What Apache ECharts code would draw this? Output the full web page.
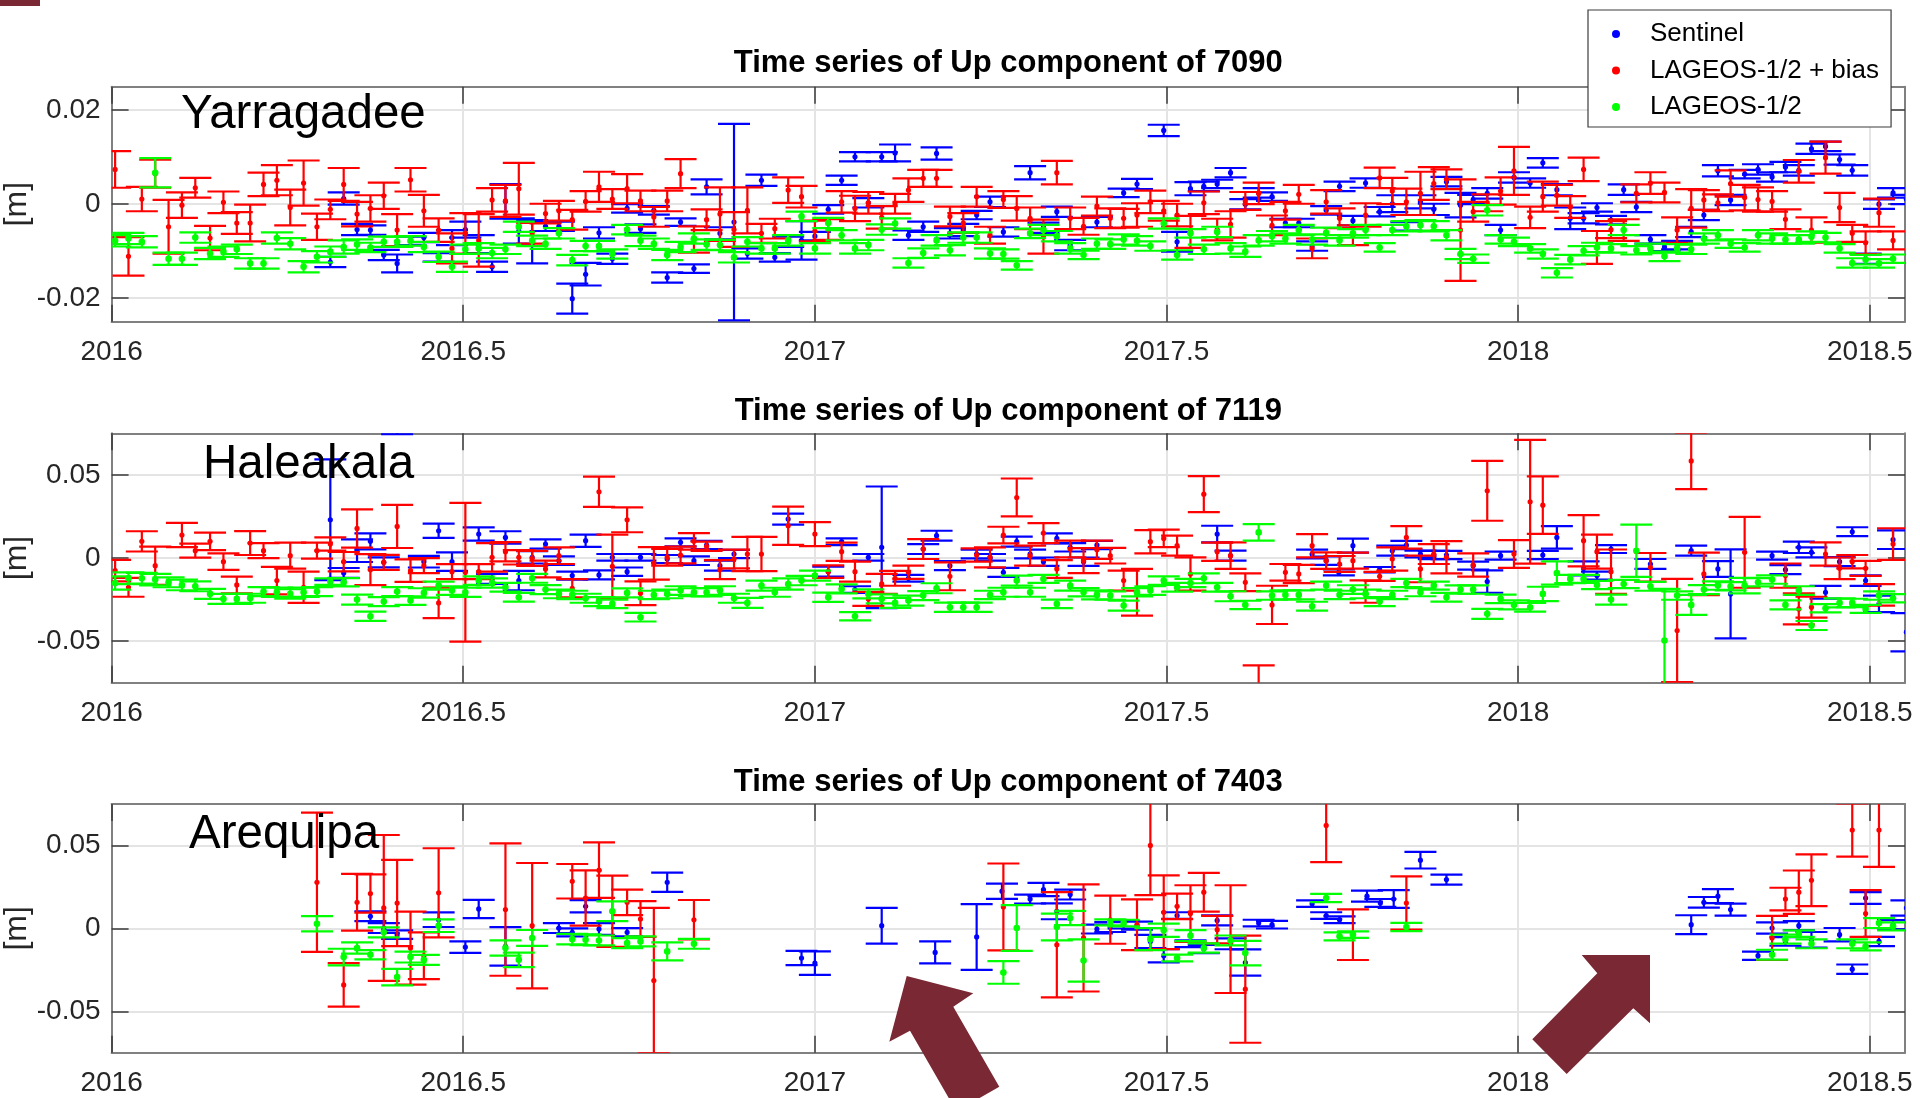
<!DOCTYPE html>
<html>
<head>
<meta charset="utf-8">
<title>Time series of Up component</title>
<script src="https://cdn.jsdelivr.net/npm/echarts@6/dist/echarts.min.js"></script>
<style>
  html, body { margin: 0; padding: 0; background: #ffffff; }
  #chart { width: 1920px; height: 1098px; }
</style>
</head>
<body>
<div id="chart"></div>
<script>
// ---- Data: [decimal year, Up component (m), 1-sigma (m)] ----

const xTicks = [2016, 2016.5, 2017, 2017.5, 2018, 2018.5];
const yTicksNarrow = [-0.02, 0, 0.02];
const yTicksWide = [-0.05, 0, 0.05];

// Station 7090 Yarragadee
const yarSentinel = [
  [2016.311,-0.0123,0.0011],[2016.330,0.0012,0.0013],[2016.349,-0.0054,0.0012],[2016.368,-0.0055,0.0010],
  [2016.387,-0.0108,0.0011],[2016.406,-0.0126,0.0019],[2016.425,-0.0078,0.0009],[2016.444,-0.0071,0.0010],
  [2016.465,-0.0113,0.0009],[2016.484,-0.0071,0.0016],[2016.503,-0.0054,0.0017],[2016.522,-0.0085,0.0019],
  [2016.541,-0.0133,0.0011],[2016.560,0.0006,0.0037],[2016.579,-0.0057,0.0027],[2016.598,-0.0080,0.0046],
  [2016.617,-0.0047,0.0010],[2016.636,-0.0047,0.0010],[2016.655,-0.0201,0.0032],[2016.674,-0.0149,0.0024],
  [2016.693,-0.0061,0.0012],[2016.712,-0.0116,0.0011],[2016.733,-0.0009,0.0009],[2016.752,-0.0052,0.0009],
  [2016.771,-0.0013,0.0009],[2016.790,-0.0156,0.0011],[2016.809,-0.0038,0.0008],[2016.828,-0.0137,0.0009],
  [2016.846,0.0037,0.0016],[2016.865,-0.0062,0.0013],[2016.885,-0.0038,0.0209],[2016.904,-0.0105,0.0011],
  [2016.924,0.0051,0.0012],[2016.943,-0.0113,0.0009],[2016.962,-0.0080,0.0011],[2016.981,-0.0077,0.0041],
  [2017.000,-0.0068,0.0009],[2017.019,-0.0011,0.0009],[2017.038,0.0051,0.0010],[2017.057,0.0101,0.0010],
  [2017.076,0.0003,0.0010],[2017.095,0.0101,0.0010],[2017.114,0.0109,0.0018],[2017.133,-0.0066,0.0010],
  [2017.154,-0.0048,0.0011],[2017.173,0.0108,0.0013],[2017.192,-0.0062,0.0011],[2017.211,-0.0055,0.0013],
  [2017.230,-0.0023,0.0009],[2017.249,0.0005,0.0011],[2017.268,-0.0059,0.0010],[2017.306,0.0067,0.0014],
  [2017.325,-0.0050,0.0011],[2017.344,-0.0016,0.0011],[2017.363,-0.0087,0.0011],[2017.401,-0.0038,0.0011],
  [2017.439,0.0024,0.0009],[2017.458,0.0043,0.0011],[2017.496,0.0157,0.0012],[2017.515,-0.0080,0.0021],
  [2017.534,0.0033,0.0014],[2017.553,0.0038,0.0010],[2017.572,0.0043,0.0009],[2017.591,0.0067,0.0010],
  [2017.612,0.0000,0.0011],[2017.631,0.0024,0.0010],[2017.650,0.0016,0.0009],[2017.669,-0.0040,0.0009],
  [2017.688,-0.0040,0.0009],[2017.707,-0.0089,0.0010],[2017.727,-0.0013,0.0009],[2017.746,0.0038,0.0010],
  [2017.765,-0.0035,0.0010],[2017.783,0.0045,0.0010],[2017.803,-0.0016,0.0010],[2017.821,0.0001,0.0018],
  [2017.841,-0.0047,0.0009],[2017.861,0.0005,0.0014],[2017.880,-0.0011,0.0012],[2017.898,0.0048,0.0010],
  [2017.918,-0.0002,0.0026],[2017.936,0.0010,0.0010],[2017.956,0.0023,0.0011],[2017.975,-0.0055,0.0011],
  [2017.994,0.0057,0.0011],[2018.017,0.0045,0.0010],[2018.035,0.0088,0.0010],[2018.055,0.0031,0.0012],
  [2018.074,-0.0030,0.0023],[2018.093,-0.0030,0.0011],[2018.112,-0.0007,0.0009],[2018.132,-0.0034,0.0009],
  [2018.150,0.0031,0.0011],[2018.168,-0.0006,0.0011],[2018.188,-0.0075,0.0009],[2018.208,-0.0091,0.0009],
  [2018.226,-0.0087,0.0009],[2018.246,-0.0059,0.0011],[2018.264,-0.0023,0.0011],[2018.284,0.0071,0.0012],
  [2018.302,0.0009,0.0011],[2018.322,0.0064,0.0009],[2018.341,0.0074,0.0011],[2018.361,0.0058,0.0010],
  [2018.380,0.0079,0.0011],[2018.399,0.0072,0.0011],[2018.417,0.0118,0.0011],[2018.437,0.0123,0.0010],
  [2018.457,0.0095,0.0011],[2018.475,0.0072,0.0011],[2018.494,-0.0116,0.0011],[2018.513,0.0000,0.0010],
  [2018.533,0.0024,0.0010],[2018.552,0.0010,0.0010]
];
const yarBias = [
  [2016.005,0.0074,0.0039],[2016.024,-0.0111,0.0041],[2016.043,0.0011,0.0026],[2016.062,0.0065,0.0030],
  [2016.081,-0.0048,0.0057],[2016.100,-0.0002,0.0027],[2016.119,0.0035,0.0021],[2016.140,-0.0072,0.0026],
  [2016.159,0.0004,0.0023],[2016.178,-0.0040,0.0023],[2016.197,-0.0040,0.0039],[2016.216,0.0042,0.0025],
  [2016.235,0.0051,0.0032],[2016.254,-0.0007,0.0038],[2016.273,0.0045,0.0048],[2016.292,-0.0048,0.0028],
  [2016.311,-0.0011,0.0021],[2016.330,0.0042,0.0035],[2016.349,-0.0021,0.0026],[2016.368,-0.0009,0.0028],
  [2016.387,0.0018,0.0028],[2016.406,-0.0055,0.0034],[2016.425,0.0052,0.0025],[2016.444,-0.0014,0.0034],
  [2016.465,-0.0055,0.0025],[2016.484,-0.0094,0.0032],[2016.503,-0.0062,0.0043],[2016.522,-0.0077,0.0056],
  [2016.541,0.0009,0.0025],[2016.560,0.0007,0.0034],[2016.579,0.0033,0.0055],[2016.598,-0.0062,0.0022],
  [2016.617,-0.0020,0.0021],[2016.636,-0.0014,0.0021],[2016.655,-0.0033,0.0021],[2016.674,0.0006,0.0022],
  [2016.693,0.0037,0.0032],[2016.712,0.0011,0.0021],[2016.733,0.0033,0.0031],[2016.752,0.0007,0.0022],
  [2016.771,-0.0027,0.0021],[2016.790,0.0007,0.0022],[2016.809,0.0065,0.0031],[2016.828,-0.0075,0.0028],
  [2016.846,-0.0033,0.0022],[2016.865,-0.0021,0.0057],[2016.885,-0.0054,0.0037],[2016.904,-0.0013,0.0049],
  [2016.924,-0.0062,0.0020],[2016.943,-0.0052,0.0021],[2016.962,0.0030,0.0027],[2016.981,0.0016,0.0023],
  [2017.000,-0.0057,0.0022],[2017.019,-0.0054,0.0022],[2017.038,0.0005,0.0023],[2017.057,-0.0009,0.0027],
  [2017.076,0.0003,0.0023],[2017.095,-0.0028,0.0024],[2017.114,0.0001,0.0021],[2017.133,0.0030,0.0025],
  [2017.154,0.0055,0.0018],[2017.173,0.0055,0.0018],[2017.192,-0.0026,0.0021],[2017.211,-0.0040,0.0021],
  [2017.230,0.0016,0.0021],[2017.249,-0.0066,0.0018],[2017.268,0.0010,0.0018],[2017.287,-0.0009,0.0026],
  [2017.306,-0.0030,0.0023],[2017.325,-0.0069,0.0036],[2017.344,0.0067,0.0025],[2017.363,-0.0030,0.0023],
  [2017.382,-0.0047,0.0018],[2017.401,-0.0004,0.0020],[2017.420,-0.0030,0.0021],[2017.439,-0.0030,0.0020],
  [2017.458,-0.0023,0.0025],[2017.477,0.0005,0.0024],[2017.496,-0.0014,0.0021],[2017.515,-0.0023,0.0024],
  [2017.534,-0.0059,0.0034],[2017.553,0.0003,0.0024],[2017.572,-0.0054,0.0023],[2017.591,-0.0043,0.0028],
  [2017.612,0.0007,0.0019],[2017.631,0.0023,0.0023],[2017.650,-0.0045,0.0021],[2017.669,-0.0014,0.0019],
  [2017.688,0.0021,0.0020],[2017.707,-0.0094,0.0021],[2017.727,0.0005,0.0025],[2017.746,-0.0030,0.0021],
  [2017.765,-0.0066,0.0021],[2017.783,-0.0023,0.0025],[2017.803,0.0056,0.0022],[2017.821,0.0028,0.0028],
  [2017.841,0.0005,0.0028],[2017.861,0.0023,0.0046],[2017.880,0.0044,0.0035],[2017.898,0.0053,0.0021],
  [2017.918,-0.0055,0.0108],[2017.936,-0.0016,0.0021],[2017.956,0.0003,0.0018],[2017.975,0.0028,0.0029],
  [2017.994,0.0071,0.0051],[2018.017,-0.0028,0.0023],[2018.035,0.0016,0.0032],[2018.055,0.0019,0.0022],
  [2018.074,-0.0006,0.0023],[2018.093,0.0074,0.0025],[2018.112,-0.0092,0.0035],[2018.132,-0.0054,0.0018],
  [2018.150,-0.0055,0.0023],[2018.168,0.0023,0.0019],[2018.188,0.0045,0.0023],[2018.208,0.0025,0.0021],
  [2018.226,-0.0055,0.0027],[2018.246,-0.0009,0.0041],[2018.264,0.0009,0.0021],[2018.284,0.0003,0.0018],
  [2018.302,0.0044,0.0028],[2018.322,0.0014,0.0027],[2018.341,0.0010,0.0026],[2018.361,0.0006,0.0022],
  [2018.380,-0.0032,0.0021],[2018.399,0.0070,0.0024],[2018.417,-0.0055,0.0027],[2018.437,0.0099,0.0034],
  [2018.457,-0.0007,0.0031],[2018.475,-0.0062,0.0018],[2018.494,-0.0082,0.0024],[2018.513,-0.0018,0.0030],
  [2018.533,-0.0077,0.0019]
];
const yarLageos = [
  [2016.005,-0.0078,0.0012],[2016.024,-0.0073,0.0012],[2016.043,-0.0080,0.0012],[2016.062,0.0067,0.0031],
  [2016.081,-0.0116,0.0013],[2016.100,-0.0116,0.0013],[2016.119,-0.0071,0.0011],[2016.140,-0.0105,0.0012],
  [2016.159,-0.0101,0.0011],[2016.178,-0.0096,0.0010],[2016.197,-0.0126,0.0011],[2016.216,-0.0126,0.0011],
  [2016.235,-0.0072,0.0012],[2016.254,-0.0084,0.0012],[2016.273,-0.0133,0.0012],[2016.292,-0.0112,0.0012],
  [2016.311,-0.0101,0.0011],[2016.330,-0.0091,0.0014],[2016.349,-0.0086,0.0011],[2016.368,-0.0092,0.0010],
  [2016.387,-0.0080,0.0011],[2016.406,-0.0080,0.0011],[2016.425,-0.0078,0.0010],[2016.444,-0.0091,0.0011],
  [2016.465,-0.0112,0.0011],[2016.484,-0.0133,0.0011],[2016.503,-0.0096,0.0010],[2016.522,-0.0094,0.0011],
  [2016.541,-0.0104,0.0011],[2016.560,-0.0096,0.0010],[2016.579,-0.0048,0.0011],[2016.598,-0.0078,0.0011],
  [2016.617,-0.0084,0.0011],[2016.636,-0.0062,0.0011],[2016.655,-0.0119,0.0011],[2016.674,-0.0089,0.0011],
  [2016.693,-0.0089,0.0011],[2016.712,-0.0106,0.0010],[2016.733,-0.0054,0.0010],[2016.752,-0.0078,0.0011],
  [2016.771,-0.0084,0.0011],[2016.790,-0.0108,0.0011],[2016.809,-0.0091,0.0011],[2016.828,-0.0073,0.0011],
  [2016.846,-0.0086,0.0011],[2016.865,-0.0087,0.0011],[2016.885,-0.0113,0.0011],[2016.904,-0.0080,0.0010],
  [2016.924,-0.0094,0.0011],[2016.943,-0.0094,0.0011],[2016.962,-0.0077,0.0011],[2016.981,-0.0026,0.0010],
  [2017.000,-0.0094,0.0011],[2017.019,-0.0040,0.0011],[2017.038,-0.0066,0.0011],[2017.057,-0.0094,0.0011],
  [2017.076,-0.0087,0.0011],[2017.095,-0.0054,0.0011],[2017.114,-0.0041,0.0011],[2017.133,-0.0125,0.0010],
  [2017.154,-0.0104,0.0010],[2017.173,-0.0077,0.0011],[2017.192,-0.0098,0.0011],[2017.211,-0.0071,0.0011],
  [2017.230,-0.0071,0.0011],[2017.249,-0.0105,0.0011],[2017.268,-0.0106,0.0010],[2017.287,-0.0130,0.0009],
  [2017.306,-0.0062,0.0010],[2017.325,-0.0055,0.0011],[2017.344,-0.0068,0.0011],[2017.363,-0.0094,0.0011],
  [2017.382,-0.0108,0.0009],[2017.401,-0.0084,0.0011],[2017.420,-0.0085,0.0010],[2017.439,-0.0075,0.0011],
  [2017.458,-0.0078,0.0010],[2017.477,-0.0089,0.0010],[2017.496,-0.0041,0.0011],[2017.515,-0.0108,0.0010],
  [2017.534,-0.0062,0.0009],[2017.553,-0.0096,0.0010],[2017.572,-0.0059,0.0011],[2017.591,-0.0094,0.0011],
  [2017.612,-0.0101,0.0011],[2017.631,-0.0077,0.0011],[2017.650,-0.0068,0.0011],[2017.669,-0.0073,0.0011],
  [2017.688,-0.0055,0.0011],[2017.707,-0.0075,0.0011],[2017.727,-0.0061,0.0011],[2017.746,-0.0077,0.0011],
  [2017.765,-0.0062,0.0009],[2017.783,-0.0055,0.0011],[2017.803,-0.0092,0.0009],[2017.821,-0.0055,0.0011],
  [2017.841,-0.0047,0.0011],[2017.861,-0.0045,0.0011],[2017.880,-0.0047,0.0011],[2017.898,-0.0066,0.0011],
  [2017.918,-0.0106,0.0011],[2017.936,-0.0116,0.0009],[2017.956,-0.0013,0.0011],[2017.975,-0.0075,0.0009],
  [2017.994,-0.0080,0.0009],[2018.017,-0.0094,0.0009],[2018.035,-0.0106,0.0010],[2018.055,-0.0146,0.0010],
  [2018.074,-0.0118,0.0010],[2018.093,-0.0099,0.0010],[2018.112,-0.0092,0.0010],[2018.132,-0.0094,0.0009],
  [2018.150,-0.0055,0.0011],[2018.168,-0.0098,0.0009],[2018.188,-0.0094,0.0010],[2018.208,-0.0111,0.0010],
  [2018.226,-0.0094,0.0009],[2018.246,-0.0096,0.0010],[2018.264,-0.0073,0.0011],[2018.284,-0.0066,0.0011],
  [2018.302,-0.0084,0.0009],[2018.322,-0.0092,0.0009],[2018.341,-0.0066,0.0011],[2018.361,-0.0073,0.0011],
  [2018.380,-0.0075,0.0009],[2018.399,-0.0075,0.0009],[2018.417,-0.0069,0.0011],[2018.437,-0.0071,0.0010],
  [2018.457,-0.0094,0.0009],[2018.475,-0.0125,0.0010],[2018.494,-0.0118,0.0010],[2018.513,-0.0126,0.0009],
  [2018.533,-0.0116,0.0009]
];

// Station 7119 Haleakala
const halSentinel = [
  [2016.311,0.0230,0.0363],[2016.330,-0.0090,0.0030],[2016.349,0.0044,0.0068],[2016.368,0.0100,0.0048],
  [2016.387,-0.0026,0.0030],[2016.406,0.0900,0.0155],[2016.444,-0.0022,0.0035],[2016.465,0.0164,0.0043],
  [2016.484,-0.0022,0.0056],[2016.522,0.0144,0.0040],[2016.541,-0.0126,0.0030],[2016.560,0.0124,0.0037],
  [2016.579,-0.0136,0.0058],[2016.598,0.0004,0.0037],[2016.617,0.0084,0.0028],[2016.636,-0.0016,0.0026],
  [2016.655,-0.0106,0.0024],[2016.674,0.0104,0.0037],[2016.693,-0.0102,0.0027],[2016.712,0.0004,0.0020],
  [2016.733,-0.0082,0.0025],[2016.752,0.0004,0.0020],[2016.790,-0.0006,0.0024],[2016.809,0.0094,0.0024],
  [2016.828,-0.0016,0.0026],[2016.846,0.0078,0.0025],[2016.865,-0.0046,0.0030],[2016.885,0.0024,0.0025],
  [2016.962,0.0234,0.0033],[2017.019,-0.0082,0.0030],[2017.038,0.0098,0.0020],[2017.057,-0.0190,0.0020],
  [2017.076,0.0004,0.0020],[2017.095,0.0064,0.0366],[2017.133,-0.0122,0.0020],[2017.154,0.0054,0.0030],
  [2017.173,0.0134,0.0030],[2017.192,-0.0046,0.0027],[2017.230,0.0024,0.0026],[2017.249,0.0004,0.0020],
  [2017.268,-0.0086,0.0027],[2017.287,0.0098,0.0030],[2017.306,0.0024,0.0026],[2017.325,-0.0022,0.0025],
  [2017.344,0.0118,0.0030],[2017.363,0.0064,0.0025],[2017.382,-0.0022,0.0025],[2017.401,0.0078,0.0025],
  [2017.572,0.0144,0.0050],[2017.591,0.0014,0.0030],[2017.707,0.0024,0.0026],[2017.727,-0.0016,0.0025],
  [2017.745,-0.0086,0.0018],[2017.765,0.0074,0.0042],[2017.803,-0.0070,0.0016],[2017.821,0.0044,0.0030],
  [2017.841,0.0078,0.0025],[2017.861,0.0024,0.0020],[2017.880,0.0018,0.0025],[2017.898,0.0018,0.0025],
  [2017.936,-0.0046,0.0024],[2017.956,-0.0142,0.0067],[2017.975,0.0014,0.0024],[2018.035,0.0018,0.0025],
  [2018.055,0.0124,0.0068],[2018.093,-0.0062,0.0042],[2018.112,-0.0106,0.0024],[2018.132,0.0054,0.0024],
  [2018.188,-0.0036,0.0030],[2018.246,0.0044,0.0030],[2018.284,-0.0066,0.0047],[2018.302,-0.0216,0.0268],
  [2018.361,0.0014,0.0024],[2018.380,-0.0070,0.0027],[2018.399,0.0064,0.0034],[2018.417,0.0034,0.0030],
  [2018.437,-0.0206,0.0038],[2018.457,-0.0022,0.0027],[2018.475,0.0158,0.0027],[2018.494,-0.0136,0.0032],
  [2018.513,-0.0276,0.0050],[2018.533,0.0110,0.0056],[2018.552,-0.0446,0.0115]
];
const halBias = [
  [2016.005,-0.0076,0.0065],[2016.024,-0.0176,0.0057],[2016.043,0.0100,0.0061],[2016.062,-0.0046,0.0115],
  [2016.100,0.0138,0.0073],[2016.119,0.0044,0.0042],[2016.140,0.0100,0.0053],[2016.159,-0.0022,0.0050],
  [2016.178,-0.0162,0.0050],[2016.197,0.0090,0.0072],[2016.216,0.0044,0.0045],[2016.235,-0.0136,0.0083],
  [2016.254,0.0014,0.0078],[2016.273,-0.0176,0.0094],[2016.292,0.0044,0.0048],[2016.311,0.0084,0.0040],
  [2016.330,-0.0022,0.0058],[2016.349,0.0178,0.0115],[2016.368,-0.0070,0.0093],[2016.387,-0.0026,0.0045],
  [2016.406,0.0190,0.0130],[2016.425,-0.0076,0.0068],[2016.444,-0.0046,0.0045],[2016.465,-0.0270,0.0092],
  [2016.484,-0.0082,0.0045],[2016.503,-0.0086,0.0417],[2016.522,-0.0082,0.0045],[2016.541,0.0004,0.0086],
  [2016.560,0.0038,0.0058],[2016.579,0.0004,0.0043],[2016.598,-0.0002,0.0045],[2016.617,-0.0066,0.0050],
  [2016.636,0.0014,0.0050],[2016.655,-0.0182,0.0055],[2016.693,0.0398,0.0091],[2016.712,-0.0050,0.0190],
  [2016.733,0.0230,0.0075],[2016.752,-0.0212,0.0072],[2016.771,-0.0032,0.0098],[2016.790,0.0004,0.0050],
  [2016.809,0.0018,0.0050],[2016.828,0.0100,0.0050],[2016.846,0.0070,0.0028],[2016.865,-0.0070,0.0057],
  [2016.885,-0.0006,0.0056],[2016.904,0.0024,0.0103],[2016.924,0.0024,0.0103],[2016.962,0.0194,0.0115],
  [2017.000,0.0144,0.0072],[2017.019,-0.0082,0.0038],[2017.038,0.0038,0.0055],[2017.057,-0.0082,0.0060],
  [2017.076,-0.0246,0.0042],[2017.095,-0.0156,0.0060],[2017.114,-0.0122,0.0045],[2017.133,-0.0086,0.0040],
  [2017.154,0.0054,0.0060],[2017.192,-0.0110,0.0084],[2017.230,0.0018,0.0040],[2017.249,0.0004,0.0060],
  [2017.268,0.0138,0.0050],[2017.287,0.0364,0.0114],[2017.306,0.0014,0.0060],[2017.325,0.0150,0.0060],
  [2017.344,-0.0066,0.0053],[2017.363,0.0054,0.0050],[2017.382,-0.0016,0.0075],[2017.401,0.0050,0.0055],
  [2017.420,0.0014,0.0047],[2017.439,-0.0136,0.0060],[2017.458,-0.0206,0.0140],[2017.477,0.0098,0.0070],
  [2017.496,0.0118,0.0053],[2017.515,0.0074,0.0060],[2017.534,-0.0096,0.0100],[2017.553,0.0384,0.0108],
  [2017.572,0.0038,0.0055],[2017.591,0.0014,0.0080],[2017.612,-0.0146,0.0053],[2017.631,-0.0800,0.0154],
  [2017.650,-0.0282,0.0115],[2017.669,-0.0086,0.0050],[2017.688,-0.0096,0.0055],[2017.707,0.0074,0.0070],
  [2017.727,-0.0016,0.0050],[2017.746,-0.0036,0.0048],[2017.765,-0.0016,0.0048],[2017.783,-0.0202,0.0067],
  [2017.803,-0.0110,0.0027],[2017.821,-0.0006,0.0070],[2017.841,0.0124,0.0068],[2017.861,-0.0066,0.0080],
  [2017.880,0.0024,0.0060],[2017.898,0.0004,0.0097],[2017.936,-0.0042,0.0070],[2017.956,0.0404,0.0180],
  [2017.994,0.0024,0.0083],[2018.017,0.0338,0.0372],[2018.035,0.0318,0.0173],[2018.093,0.0104,0.0154],
  [2018.112,0.0038,0.0102],[2018.132,-0.0082,0.0133],[2018.188,-0.0056,0.0086],[2018.226,-0.0436,0.0310],
  [2018.246,0.0584,0.0170],[2018.264,-0.0096,0.0128],[2018.322,0.0034,0.0213],[2018.380,-0.0106,0.0073],
  [2018.399,-0.0306,0.0093],[2018.417,-0.0296,0.0063],[2018.437,0.0024,0.0070],[2018.457,-0.0062,0.0065],
  [2018.475,-0.0022,0.0040],[2018.494,-0.0062,0.0045],[2018.513,-0.0222,0.0065],[2018.533,0.0084,0.0095]
];
const halLageos = [
  [2016.005,-0.0150,0.0040],[2016.024,-0.0122,0.0035],[2016.043,-0.0122,0.0032],[2016.062,-0.0130,0.0035],
  [2016.081,-0.0146,0.0030],[2016.100,-0.0162,0.0032],[2016.119,-0.0170,0.0030],[2016.140,-0.0216,0.0030],
  [2016.159,-0.0246,0.0030],[2016.178,-0.0246,0.0030],[2016.197,-0.0242,0.0027],[2016.216,-0.0202,0.0027],
  [2016.235,-0.0206,0.0028],[2016.254,-0.0216,0.0028],[2016.273,-0.0206,0.0028],[2016.292,-0.0202,0.0027],
  [2016.311,-0.0142,0.0020],[2016.330,-0.0146,0.0025],[2016.349,-0.0250,0.0030],[2016.368,-0.0350,0.0028],
  [2016.387,-0.0262,0.0027],[2016.406,-0.0202,0.0027],[2016.425,-0.0256,0.0026],[2016.444,-0.0210,0.0028],
  [2016.465,-0.0166,0.0024],[2016.484,-0.0196,0.0026],[2016.503,-0.0206,0.0028],[2016.522,-0.0136,0.0026],
  [2016.541,-0.0150,0.0028],[2016.560,-0.0176,0.0026],[2016.579,-0.0236,0.0026],[2016.598,-0.0122,0.0027],
  [2016.617,-0.0190,0.0027],[2016.636,-0.0216,0.0026],[2016.655,-0.0222,0.0025],[2016.674,-0.0242,0.0027],
  [2016.693,-0.0262,0.0027],[2016.712,-0.0276,0.0026],[2016.733,-0.0210,0.0027],[2016.752,-0.0356,0.0026],
  [2016.771,-0.0222,0.0025],[2016.790,-0.0216,0.0026],[2016.809,-0.0196,0.0026],[2016.828,-0.0206,0.0024],
  [2016.846,-0.0206,0.0025],[2016.865,-0.0196,0.0026],[2016.885,-0.0242,0.0027],[2016.904,-0.0270,0.0030],
  [2016.924,-0.0166,0.0030],[2016.943,-0.0206,0.0027],[2016.962,-0.0156,0.0034],[2016.981,-0.0136,0.0028],
  [2017.000,-0.0106,0.0030],[2017.019,-0.0236,0.0028],[2017.038,-0.0186,0.0027],[2017.057,-0.0350,0.0025],
  [2017.076,-0.0216,0.0027],[2017.095,-0.0246,0.0027],[2017.114,-0.0270,0.0030],[2017.133,-0.0256,0.0030],
  [2017.154,-0.0226,0.0027],[2017.173,-0.0182,0.0030],[2017.192,-0.0296,0.0028],[2017.211,-0.0296,0.0028],
  [2017.230,-0.0296,0.0028],[2017.249,-0.0222,0.0025],[2017.268,-0.0206,0.0027],[2017.287,-0.0136,0.0030],
  [2017.306,-0.0206,0.0027],[2017.325,-0.0126,0.0024],[2017.344,-0.0276,0.0026],[2017.363,-0.0166,0.0030],
  [2017.382,-0.0206,0.0025],[2017.401,-0.0222,0.0027],[2017.420,-0.0226,0.0025],[2017.439,-0.0286,0.0030],
  [2017.458,-0.0206,0.0025],[2017.477,-0.0196,0.0026],[2017.496,-0.0136,0.0026],[2017.515,-0.0176,0.0026],
  [2017.534,-0.0150,0.0025],[2017.553,-0.0122,0.0030],[2017.572,-0.0176,0.0026],[2017.591,-0.0230,0.0030],
  [2017.612,-0.0282,0.0025],[2017.631,0.0154,0.0050],[2017.650,-0.0226,0.0025],[2017.669,-0.0222,0.0027],
  [2017.688,-0.0222,0.0027],[2017.707,-0.0290,0.0027],[2017.727,-0.0166,0.0024],[2017.746,-0.0222,0.0025],
  [2017.765,-0.0190,0.0026],[2017.783,-0.0216,0.0026],[2017.803,-0.0262,0.0027],[2017.821,-0.0222,0.0025],
  [2017.841,-0.0150,0.0025],[2017.861,-0.0206,0.0024],[2017.880,-0.0166,0.0024],[2017.898,-0.0236,0.0026],
  [2017.918,-0.0190,0.0025],[2017.936,-0.0190,0.0025],[2017.956,-0.0336,0.0030],[2017.975,-0.0246,0.0026],
  [2017.994,-0.0282,0.0027],[2018.017,-0.0296,0.0026],[2018.035,-0.0216,0.0043],[2018.055,-0.0090,0.0070],
  [2018.074,-0.0126,0.0025],[2018.093,-0.0126,0.0024],[2018.112,-0.0162,0.0025],[2018.132,-0.0250,0.0030],
  [2018.150,-0.0156,0.0025],[2018.168,0.0044,0.0157],[2018.188,-0.0170,0.0027],[2018.208,-0.0496,0.0310],
  [2018.226,-0.0226,0.0025],[2018.246,-0.0282,0.0060],[2018.264,-0.0190,0.0027],[2018.284,-0.0166,0.0025],
  [2018.302,-0.0170,0.0025],[2018.322,-0.0166,0.0047],[2018.341,-0.0146,0.0025],[2018.361,-0.0130,0.0025],
  [2018.380,-0.0282,0.0027],[2018.399,-0.0196,0.0026],[2018.417,-0.0406,0.0027],[2018.437,-0.0302,0.0025],
  [2018.457,-0.0270,0.0027],[2018.475,-0.0270,0.0025],[2018.494,-0.0306,0.0024],[2018.513,-0.0226,0.0025],
  [2018.533,-0.0242,0.0025]
];

// Station 7403 Arequipa
const areSentinel = [
  [2016.368,0.0073,0.0030],[2016.387,0.0002,0.0030],[2016.406,-0.0038,0.0026],[2016.465,0.0052,0.0044],
  [2016.503,-0.0113,0.0035],[2016.522,0.0117,0.0055],[2016.560,-0.0109,0.0116],[2016.636,0.0002,0.0030],
  [2016.655,-0.0024,0.0024],[2016.674,0.0133,0.0037],[2016.693,-0.0004,0.0035],[2016.733,-0.0024,0.0025],
  [2016.790,0.0278,0.0058],[2016.981,-0.0179,0.0043],[2017.000,-0.0210,0.0071],[2017.095,0.0016,0.0108],
  [2017.171,-0.0145,0.0066],[2017.230,-0.0052,0.0198],[2017.266,0.0224,0.0046],[2017.306,0.0177,0.0027],
  [2017.325,0.0234,0.0040],[2017.344,0.0103,0.0048],[2017.363,0.0204,0.0030],[2017.401,-0.0004,0.0027],
  [2017.420,0.0008,0.0030],[2017.439,0.0022,0.0023],[2017.458,0.0016,0.0024],[2017.477,-0.0079,0.0040],
  [2017.496,-0.0165,0.0040],[2017.515,0.0077,0.0020],[2017.534,-0.0093,0.0020],[2017.553,-0.0125,0.0025],
  [2017.572,0.0048,0.0030],[2017.591,-0.0093,0.0033],[2017.612,-0.0206,0.0079],[2017.631,0.0032,0.0020],
  [2017.650,0.0022,0.0023],[2017.707,0.0149,0.0020],[2017.727,0.0077,0.0020],[2017.746,0.0052,0.0020],
  [2017.785,0.0194,0.0033],[2017.804,0.0153,0.0024],[2017.823,0.0177,0.0053],[2017.861,0.0411,0.0050],
  [2017.898,0.0294,0.0030],[2018.246,0.0022,0.0057],[2018.264,0.0157,0.0032],[2018.284,0.0194,0.0042],
  [2018.302,0.0113,0.0036],[2018.341,-0.0165,0.0025],[2018.361,0.0002,0.0034],[2018.380,-0.0079,0.0026],
  [2018.399,0.0016,0.0027],[2018.417,-0.0069,0.0047],[2018.457,-0.0038,0.0040],[2018.475,-0.0246,0.0028],
  [2018.494,0.0183,0.0035],[2018.513,-0.0079,0.0028],[2018.533,0.0022,0.0028],[2018.552,0.0123,0.0046]
];
const areBias = [
  [2016.292,0.0278,0.0420],[2016.330,-0.0341,0.0131],[2016.349,0.0157,0.0171],[2016.368,0.0210,0.0115],
  [2016.387,0.0123,0.0440],[2016.406,0.0153,0.0260],[2016.425,-0.0119,0.0220],[2016.444,-0.0165,0.0141],
  [2016.465,0.0214,0.0269],[2016.560,0.0113,0.0399],[2016.598,0.0016,0.0378],[2016.655,0.0284,0.0104],
  [2016.674,0.0183,0.0167],[2016.693,0.0351,0.0167],[2016.712,0.0103,0.0215],[2016.733,0.0157,0.0077],
  [2016.752,0.0056,0.0108],[2016.771,-0.0315,0.0438],[2016.828,0.0052,0.0119],[2017.268,0.0129,0.0262],
  [2017.344,-0.0099,0.0317],[2017.382,-0.0058,0.0323],[2017.420,0.0052,0.0145],[2017.458,0.0022,0.0153],
  [2017.477,0.0500,0.0300],[2017.496,0.0097,0.0222],[2017.515,0.0133,0.0077],[2017.534,0.0089,0.0171],
  [2017.553,0.0218,0.0117],[2017.572,-0.0008,0.0083],[2017.591,-0.0065,0.0325],[2017.612,-0.0367,0.0323],
  [2017.727,0.0621,0.0222],[2017.765,-0.0038,0.0153],[2017.841,0.0153,0.0161],[2018.361,-0.0058,0.0133],
  [2018.380,0.0177,0.0068],[2018.399,0.0218,0.0131],[2018.417,0.0290,0.0156],[2018.475,0.0593,0.0161],
  [2018.494,0.0089,0.0141],[2018.513,0.0593,0.0222]
];
const areLageos = [
  [2016.292,0.0028,0.0046],[2016.330,-0.0173,0.0050],[2016.349,-0.0119,0.0034],[2016.368,-0.0159,0.0028],
  [2016.387,-0.0024,0.0030],[2016.406,-0.0294,0.0050],[2016.425,-0.0173,0.0033],[2016.444,-0.0190,0.0030],
  [2016.465,0.0016,0.0038],[2016.560,-0.0119,0.0046],[2016.579,-0.0190,0.0044],[2016.598,-0.0058,0.0048],
  [2016.655,-0.0065,0.0032],[2016.674,-0.0069,0.0033],[2016.693,-0.0073,0.0030],[2016.712,0.0103,0.0060],
  [2016.733,-0.0089,0.0030],[2016.752,-0.0079,0.0030],[2016.790,-0.0139,0.0054],[2016.828,-0.0093,0.0030],
  [2017.268,-0.0266,0.0068],[2017.287,0.0002,0.0138],[2017.344,0.0008,0.0081],[2017.363,0.0062,0.0043],
  [2017.382,-0.0194,0.0127],[2017.420,0.0036,0.0018],[2017.439,0.0032,0.0020],[2017.477,-0.0065,0.0066],
  [2017.496,-0.0012,0.0040],[2017.515,-0.0179,0.0020],[2017.534,-0.0044,0.0033],[2017.553,-0.0119,0.0028],
  [2017.591,-0.0073,0.0030],[2017.612,-0.0149,0.0074],[2017.727,0.0183,0.0025],[2017.746,-0.0048,0.0024],
  [2017.765,-0.0038,0.0020],[2017.841,0.0008,0.0025],[2018.361,-0.0159,0.0030],[2018.380,-0.0065,0.0027],
  [2018.399,-0.0032,0.0020],[2018.417,-0.0093,0.0027],[2018.475,-0.0093,0.0027],[2018.494,-0.0109,0.0024],
  [2018.513,0.0032,0.0030],[2018.533,0.0012,0.0024]
];

// ---- Layout and styling ----
const FONT = "'Liberation Sans', Arial, Helvetica, sans-serif";
const X_MIN = 2016, X_MAX = 2018.55;
const PLOT_LEFT = 111.6, PLOT_RIGHT = 1905;
const CAP = 16;          // half width of the error-bar caps, px
const BAR_WIDTH = 2.2;   // error-bar stroke width, px
const AXIS_COLOR = '#808080';
const TICK_COLOR = '#3a3a3a';
const GRID_COLOR = '#e4e4e4';
const ARROW_COLOR = '#7a2834';

const kinds = [
  { name: 'Sentinel',          color: '#0000ff', dot: 2.6 },
  { name: 'LAGEOS-1/2 + bias', color: '#ff0000', dot: 2.6 },
  { name: 'LAGEOS-1/2',        color: '#00ff00', dot: 3.3 }
];

const panels = [
  { code: '7090', station: 'Yarragadee', data: [yarSentinel, yarBias, yarLageos],
    yMin: -0.025, yMax: 0.025, yTicks: yTicksNarrow,
    top: 86.7, height: 235, titleY: 63, stationX: 181, stationY: 115 },
  { code: '7119', station: 'Haleakala', data: [halSentinel, halBias, halLageos],
    yMin: -0.075, yMax: 0.075, yTicks: yTicksWide,
    top: 433.3, height: 249.4, titleY: 411.7, stationX: 203, stationY: 465 },
  { code: '7403', station: 'Arequipa', data: [areSentinel, areBias, areLageos],
    yMin: -0.075, yMax: 0.075, yTicks: yTicksWide,
    top: 804, height: 248.7, titleY: 782.2, stationX: 189, stationY: 835 }
];

// Plain year labels (no thousands separator)
const plainNumber = v => String(Math.round(v * 1000) / 1000);

// One error bar: vertical whisker, two caps and a centre dot, clipped to the plot box
function makeErrorBar(kind) {
  return function (params, api) {
    const t = api.value(0), up = api.value(1), s = api.value(2);
    const hi = api.coord([t, up + s]);
    const lo = api.coord([t, up - s]);
    const c = api.coord([t, up]);
    const cs = params.coordSys;
    const st = { stroke: kind.color, lineWidth: BAR_WIDTH, fill: null };
    return {
      type: 'group',
      clipPath: { type: 'rect', shape: { x: cs.x, y: cs.y, width: cs.width, height: cs.height } },
      children: [
        { type: 'line', shape: { x1: hi[0], y1: hi[1], x2: lo[0], y2: lo[1] }, style: st },
        { type: 'line', shape: { x1: hi[0] - CAP, y1: hi[1], x2: hi[0] + CAP, y2: hi[1] }, style: st },
        { type: 'line', shape: { x1: lo[0] - CAP, y1: lo[1], x2: lo[0] + CAP, y2: lo[1] }, style: st },
        { type: 'circle', shape: { cx: c[0], cy: c[1], r: kind.dot }, style: { fill: kind.color, stroke: null } }
      ]
    };
  };
}

const grid = [], xAxis = [], yAxis = [], series = [], graphic = [];
const boxLine = { show: true, onZero: false, lineStyle: { color: AXIS_COLOR, width: 2 } };
const tickLine = { color: TICK_COLOR, width: 1.5 };
const tickLabel = { fontSize: 28, color: '#262626', fontFamily: FONT, lineHeight: 28, formatter: plainNumber };

panels.forEach((p, i) => {
  grid.push({ left: PLOT_LEFT, width: PLOT_RIGHT - PLOT_LEFT, top: p.top, height: p.height,
              containLabel: false, outerBoundsMode: 'none' });

  xAxis.push({
    gridIndex: i, type: 'value', position: 'bottom', min: X_MIN, max: X_MAX,
    axisLine: boxLine,
    axisTick: { show: true, inside: true, length: 17, customValues: xTicks, lineStyle: tickLine },
    axisLabel: Object.assign({ show: true, customValues: xTicks, margin: 17 }, tickLabel),
    splitLine: { show: true, lineStyle: { color: GRID_COLOR, width: 2 } }
  });
  xAxis.push({
    gridIndex: i, type: 'value', position: 'top', min: X_MIN, max: X_MAX,
    axisLine: boxLine,
    axisTick: { show: true, inside: true, length: 17, customValues: xTicks, lineStyle: tickLine },
    axisLabel: { show: false }, splitLine: { show: false }
  });
  yAxis.push({
    gridIndex: i, type: 'value', position: 'left', min: p.yMin, max: p.yMax,
    axisLine: boxLine,
    axisTick: { show: true, inside: true, length: 17, customValues: p.yTicks, lineStyle: tickLine },
    axisLabel: Object.assign({ show: true, customValues: p.yTicks, margin: 11, padding: [5, 0, 0, 0] }, tickLabel),
    splitLine: { show: true, lineStyle: { color: GRID_COLOR, width: 2 } }
  });
  yAxis.push({
    gridIndex: i, type: 'value', position: 'right', min: p.yMin, max: p.yMax,
    axisLine: boxLine,
    axisTick: { show: true, inside: true, length: 17, customValues: p.yTicks, lineStyle: tickLine },
    axisLabel: { show: false }, splitLine: { show: false }
  });

  p.data.forEach((d, k) => {
    series.push({
      type: 'custom', name: kinds[k].name,
      xAxisIndex: 2 * i, yAxisIndex: 2 * i,
      dimensions: ['year', 'up', 'sigma'], encode: { x: 0, y: 1 },
      data: d, itemStyle: { color: kinds[k].color },
      renderItem: makeErrorBar(kinds[k]),
      z: 3 + k, silent: true, animation: false
    });
  });

  graphic.push({
    type: 'text', x: (PLOT_LEFT + PLOT_RIGHT) / 2, y: p.titleY, z: 50,
    style: { text: 'Time series of Up component of ' + p.code, fill: '#000',
             font: 'bold 31px ' + FONT, align: 'center', verticalAlign: 'middle' }
  });
  graphic.push({
    type: 'text', x: p.stationX, y: p.stationY, z: 50,
    style: { text: p.station, fill: '#000', font: '47.5px ' + FONT, align: 'left', verticalAlign: 'middle' }
  });
  // y-axis unit, rotated to read bottom-to-top
  graphic.push({
    type: 'text', x: 17, y: p.top + p.height / 2, rotation: Math.PI / 2, z: 50,
    style: { text: '[m]', fill: '#262626', font: '32px ' + FONT, align: 'center', verticalAlign: 'middle' }
  });
});

// Slide decorations: corner bar and the two arrows over the Arequipa panel
graphic.push({ type: 'rect', shape: { x: 0, y: 0, width: 40, height: 6 }, style: { fill: ARROW_COLOR }, z: 60 });
graphic.push({
  type: 'polygon', z: 60, style: { fill: ARROW_COLOR },
  shape: { points: [[906.7, 976], [973.3, 993.3], [953.3, 1006.7], [999.3, 1086.7],
                    [956.4, 1111.3], [910, 1030.7], [889.3, 1041.7]] }
});
graphic.push({
  type: 'polygon', z: 60, style: { fill: ARROW_COLOR },
  shape: { points: [[1581.7, 955], [1650, 955], [1650, 1023.3], [1633.3, 1008.3],
                    [1566.7, 1074], [1532.3, 1039.3], [1597.3, 973.3]] }
});

const chart = echarts.init(document.getElementById('chart'), null, { renderer: 'canvas' });
chart.setOption({
  animation: false,
  backgroundColor: '#ffffff',
  grid, xAxis, yAxis, series, graphic,
  legend: {
    data: kinds.map(k => ({ name: k.name, icon: 'circle' })),
    orient: 'vertical', left: 1588, top: 10,
    padding: [11, 12, 7, 24], itemGap: 10.5,
    itemWidth: 40, itemHeight: 8,
    backgroundColor: '#ffffff', borderColor: '#3c3c3c', borderWidth: 1.2, borderRadius: 0,
    textStyle: { fontSize: 26, color: '#000', fontFamily: FONT, lineHeight: 26, padding: [0, 0, 0, 9] },
    selectedMode: false, z: 20
  }
});
</script>
</body>
</html>
